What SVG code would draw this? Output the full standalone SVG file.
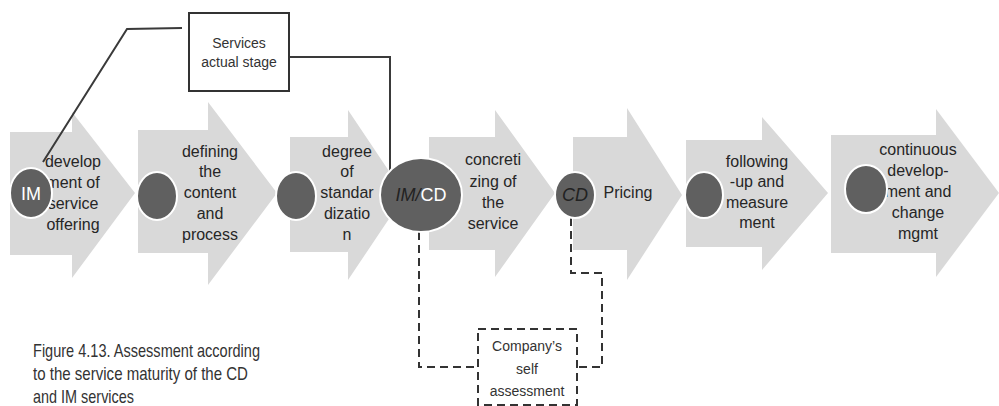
<svg xmlns="http://www.w3.org/2000/svg" width="999" height="406" viewBox="0 0 999 406">
  <style>
    .arrow { fill: #d9d9d9; }
    .dot { fill: #606060; stroke: #ffffff; stroke-width: 2; }
    .lbl { font-family: "Liberation Sans", Arial, sans-serif; font-size: 16px; fill: #262626; text-anchor: middle; }
    .box { fill: #ffffff; stroke: #333333; stroke-width: 2; }
    .dbox { fill: #ffffff; stroke: #333333; stroke-width: 2; stroke-dasharray: 8 5; }
    .boxtxt { font-family: "Liberation Sans", Arial, sans-serif; font-size: 14px; fill: #333333; text-anchor: middle; }
    .solid { fill: none; stroke: #3a3a3a; stroke-width: 2; }
    .dash { fill: none; stroke: #333333; stroke-width: 2; stroke-dasharray: 8 5; }
    .cap { font-family: "Liberation Sans", Arial, sans-serif; font-size: 19px; fill: #333333; }
  </style>

  <!-- process stages: arrow, label, marker dot -->
  <g id="stage1">
    <polygon class="arrow" points="10,132 72,132 72,112 135,193 72,278 72,255 10,255"/>
    <text class="lbl" x="73" y="167">develop</text>
    <text class="lbl" x="73" y="188">ment of</text>
    <text class="lbl" x="73" y="209">service</text>
    <text class="lbl" x="73" y="230">offering</text>
    <ellipse class="dot" cx="31" cy="193" rx="21" ry="25"/>
    <text x="31" y="200" text-anchor="middle" font-family="Liberation Sans, Arial, sans-serif" font-size="18" fill="#ffffff">IM</text>
  </g>

  <g id="stage2">
    <polygon class="arrow" points="138,130 208,130 208,102 277,193 208,285 208,253 138,253"/>
    <text class="lbl" x="210" y="157">defining</text>
    <text class="lbl" x="210" y="177">the</text>
    <text class="lbl" x="210" y="198">content</text>
    <text class="lbl" x="210" y="219">and</text>
    <text class="lbl" x="210" y="240">process</text>
    <ellipse class="dot" cx="157" cy="196" rx="20" ry="24"/>
  </g>

  <g id="stage3">
    <polygon class="arrow" points="290,137 348,137 348,110 405,195 348,280 348,252 290,252"/>
    <text class="lbl" x="347" y="157">degree</text>
    <text class="lbl" x="347" y="177">of</text>
    <text class="lbl" x="347" y="198">standar</text>
    <text class="lbl" x="347" y="219">dizatio</text>
    <text class="lbl" x="347" y="240">n</text>
    <ellipse class="dot" cx="296" cy="196" rx="20" ry="24"/>
  </g>

  <g id="stage4">
    <polygon class="arrow" points="429,137 495,137 495,110 555,193 495,277 495,250 429,250"/>
    <text class="lbl" x="493" y="165">concreti</text>
    <text class="lbl" x="493" y="187">zing of</text>
    <text class="lbl" x="493" y="208">the</text>
    <text class="lbl" x="493" y="229">service</text>
  </g>

  <g id="stage5">
    <polygon class="arrow" points="573,137 627,137 627,108 682,195 627,280 627,250 573,250"/>
    <text class="lbl" x="628" y="198">Pricing</text>
  </g>

  <g id="stage6">
    <polygon class="arrow" points="686,140 762,140 762,117 828,193 762,270 762,247 686,247"/>
    <text class="lbl" x="757" y="167">following</text>
    <text class="lbl" x="757" y="187">-up and</text>
    <text class="lbl" x="757" y="208">measure</text>
    <text class="lbl" x="757" y="228">ment</text>
    <ellipse class="dot" cx="704" cy="195" rx="19" ry="23"/>
  </g>

  <g id="stage7">
    <polygon class="arrow" points="831,135 936,135 936,109 999,193 936,277 936,253 831,253"/>
    <text class="lbl" x="918" y="155">continuous</text>
    <text class="lbl" x="918" y="176">develop-</text>
    <text class="lbl" x="918" y="197">ment and</text>
    <text class="lbl" x="918" y="218">change</text>
    <text class="lbl" x="918" y="239">mgmt</text>
    <ellipse class="dot" cx="866" cy="189" rx="21" ry="24"/>
  </g>

  <!-- connectors -->
  <g id="connectors">
    <polyline class="solid" points="182,28 127,29 43,162"/>
    <polyline class="solid" stroke="#222222" points="289,57 390,57 390,172"/>
    <polyline class="dash" points="419,232 419,367 478,367"/>
    <polyline class="dash" points="571,218 571,273 602,273 602,367 577,367"/>
  </g>

  <!-- markers placed on the connectors -->
  <g id="imcd">
    <ellipse class="dot" cx="421" cy="195" rx="41" ry="37"/>
    <text x="421" y="201" text-anchor="middle" font-family="Liberation Sans, Arial, sans-serif" font-size="18"><tspan fill="#222222" font-style="italic">IM/</tspan><tspan fill="#ffffff">CD</tspan></text>
  </g>

  <g id="cd">
    <ellipse class="dot" cx="575" cy="195" rx="20" ry="23"/>
    <text x="575" y="201" text-anchor="middle" font-family="Liberation Sans, Arial, sans-serif" font-size="18" font-style="italic" fill="#222222">CD</text>
  </g>

  <g id="actual-stage">
    <rect class="box" x="189" y="13" width="100" height="78"/>
    <text class="boxtxt" x="239" y="48">Services</text>
    <text class="boxtxt" x="239" y="67">actual stage</text>
  </g>

  <g id="self-assessment">
    <rect class="dbox" x="478" y="329" width="99" height="76"/>
    <text class="boxtxt" x="527" y="351" font-size="15">Company’s</text>
    <text class="boxtxt" x="527" y="374" font-size="15">self</text>
    <text class="boxtxt" x="527" y="396" font-size="15">assessment</text>
  </g>

  <g id="caption">
    <text class="cap" x="33" y="357" textLength="227" lengthAdjust="spacingAndGlyphs">Figure 4.13. Assessment according</text>
    <text class="cap" x="33" y="380" textLength="215" lengthAdjust="spacingAndGlyphs">to the service maturity of the CD</text>
    <text class="cap" x="33" y="403" textLength="101" lengthAdjust="spacingAndGlyphs">and IM services</text>
  </g>
</svg>
